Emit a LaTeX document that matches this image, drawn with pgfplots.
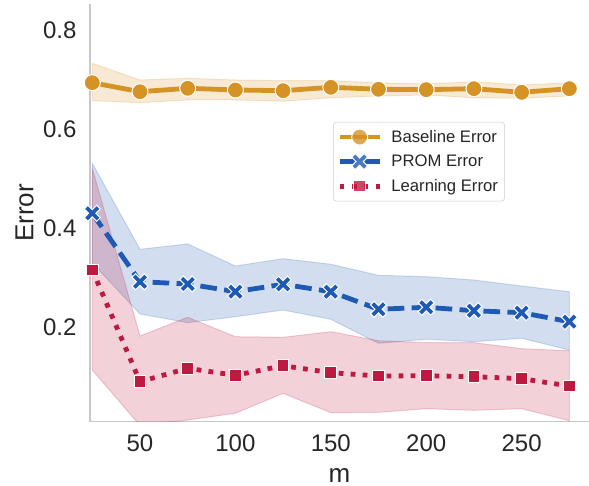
\documentclass[border=0pt]{standalone}
\usepackage{pgfplots}
\pgfplotsset{compat=1.18}
\usepackage{fontspec}
\setmainfont{Liberation Sans}
\definecolor{cbase}{RGB}{213,147,38}
\definecolor{cprom}{RGB}{30,90,180}
\definecolor{clearn}{RGB}{190,25,65}
\definecolor{txt}{RGB}{38,38,38}
\pgfdeclareplotmark{fatx}{%
  \pgfpathmoveto{\pgfpoint{0pt}{0.45\pgfplotmarksize}}%
  \pgfpathlineto{\pgfpoint{0.55\pgfplotmarksize}{\pgfplotmarksize}}%
  \pgfpathlineto{\pgfpoint{\pgfplotmarksize}{0.55\pgfplotmarksize}}%
  \pgfpathlineto{\pgfpoint{0.45\pgfplotmarksize}{0pt}}%
  \pgfpathlineto{\pgfpoint{\pgfplotmarksize}{-0.55\pgfplotmarksize}}%
  \pgfpathlineto{\pgfpoint{0.55\pgfplotmarksize}{-\pgfplotmarksize}}%
  \pgfpathlineto{\pgfpoint{0pt}{-0.45\pgfplotmarksize}}%
  \pgfpathlineto{\pgfpoint{-0.55\pgfplotmarksize}{-\pgfplotmarksize}}%
  \pgfpathlineto{\pgfpoint{-\pgfplotmarksize}{-0.55\pgfplotmarksize}}%
  \pgfpathlineto{\pgfpoint{-0.45\pgfplotmarksize}{0pt}}%
  \pgfpathlineto{\pgfpoint{-\pgfplotmarksize}{0.55\pgfplotmarksize}}%
  \pgfpathlineto{\pgfpoint{-0.55\pgfplotmarksize}{\pgfplotmarksize}}%
  \pgfpathclose
  \pgfusepathqfillstroke
}
\begin{document}
\begin{tikzpicture}
\begin{axis}[
  name=ax,
  scale only axis,
  width=374.25pt, height=313.275pt,
  xmin=23.8, xmax=285.3, ymin=0.0087, ymax=0.8525,
  axis x line*=bottom, axis y line*=left,
  axis line style={draw=black!22, line width=1pt},
  major tick length=0pt,
  xtick={50,100,150,200,250},
  ytick={0.2,0.4,0.6,0.8},
  /pgf/number format/assume math mode=true,
  ticklabel style={font=\fontsize{18}{20}\selectfont, text=txt},
  yticklabel style={/pgf/number format/fixed, /pgf/number format/fixed zerofill, /pgf/number format/precision=1, inner sep=0pt, xshift=-10pt},
  xticklabel style={inner sep=0pt, yshift=-9.5pt},
  xlabel={m}, ylabel={Error},
  every axis x label/.style={at={(axis description cs:0.5,-0.1285)}, anchor=center, inner sep=0pt, font=\fontsize{19.5}{22}\selectfont, text=txt},
  every axis y label/.style={at={(axis description cs:-0.1313,0.5)}, rotate=90, anchor=center, inner sep=0pt, font=\fontsize{19.5}{22}\selectfont, text=txt},
  legend style={at={(axis description cs:0.487,0.718)}, anchor=north west,
    draw=black!20, rounded corners=2.5pt, fill=white, fill opacity=0.8, text opacity=1,
    font=\fontsize{12.5}{14}\selectfont, text=txt,
    inner xsep=3pt, inner ysep=4pt, row sep=4pt},
  legend cell align=left,
  legend image code/.code={%
    \draw[mark repeat=2,mark phase=2,#1] plot coordinates {(0pt,0pt) (15pt,0pt) (30pt,0pt)};
    \path (35pt,0pt);},
]
% bands
\addplot[forget plot, fill=cbase, fill opacity=0.2, draw=cbase, draw opacity=0.2, line width=0.75pt] coordinates {
(25,0.7327) (50,0.6990) (75,0.7024) (100,0.6990) (125,0.6976) (150,0.6976) (175,0.6935) (200,0.6909) (225,0.6956) (250,0.6889) (275,0.6935)
(275,0.6667) (250,0.6620) (225,0.6630) (200,0.6687) (175,0.6667) (150,0.6630) (125,0.6560) (100,0.6586) (75,0.6586) (50,0.6531) (25,0.6572)} -- cycle;
\addplot[forget plot, fill=cprom, fill opacity=0.2, draw=cprom, draw opacity=0.2, line width=0.75pt] coordinates {
(25,0.5307) (50,0.3570) (75,0.3677) (100,0.3232) (125,0.3380) (150,0.3267) (175,0.3044) (200,0.3016) (225,0.2949) (250,0.2828) (275,0.2713)
(275,0.1535) (250,0.1772) (225,0.1703) (200,0.1752) (175,0.1671) (150,0.2156) (125,0.2343) (100,0.2208) (75,0.2087) (50,0.2263) (25,0.3293)} -- cycle;
\addplot[forget plot, fill=clearn, fill opacity=0.2, draw=clearn, draw opacity=0.2, line width=0.75pt] coordinates {
(25,0.5206) (50,0.1818) (75,0.2196) (100,0.1804) (125,0.1792) (150,0.1905) (175,0.1723) (200,0.1683) (225,0.1683) (250,0.1562) (275,0.1521)
(275,0.0107) (250,0.0349) (225,0.0317) (200,0.0349) (175,0.0277) (150,0.0269) (125,0.0660) (100,0.0257) (75,0.0121) (50,0.0010) (25,0.1131)} -- cycle;
% lines
\addplot[cbase, line width=3.6pt, mark=*, mark size=6pt, mark options={solid, draw=white, line width=0.75pt, fill=cbase}] coordinates {
(25,0.6935) (50,0.6753) (75,0.6822) (100,0.6788) (125,0.6774) (150,0.6842) (175,0.6802) (200,0.6794) (225,0.6814) (250,0.6741) (275,0.6814)};
\addlegendentry{Baseline Error}
\addplot[cprom, line width=3.6pt, dash pattern=on 12.5pt off 5.5pt, mark=fatx, mark size=6pt, mark options={solid, draw=white, line width=0.75pt, fill=cprom}] coordinates {
(25,0.4297) (50,0.2915) (75,0.2869) (100,0.2713) (125,0.2863) (150,0.2713) (175,0.2358) (200,0.2398) (225,0.2329) (250,0.2289) (275,0.2107)};
\addlegendentry{PROM Error}
\addplot[clearn, line width=3.6pt, dash pattern=on 3.6pt off 5.4pt, mark=square*, mark size=4.4pt, mark options={solid, draw=white, line width=0.75pt, fill=clearn}] coordinates {
(25,0.3152) (50,0.0895) (75,0.1165) (100,0.1024) (125,0.1218) (150,0.1077) (175,0.1010) (200,0.1016) (225,0.0996) (250,0.0956) (275,0.0808)};
\addlegendentry{Learning Error}
\end{axis}
\pgfresetboundingbox
\path[use as bounding box] ([shift={(-67.5pt,-48.225pt)}]ax.south west) rectangle ([shift={(0pt,3pt)}]ax.north east);
\end{tikzpicture}
\end{document}
